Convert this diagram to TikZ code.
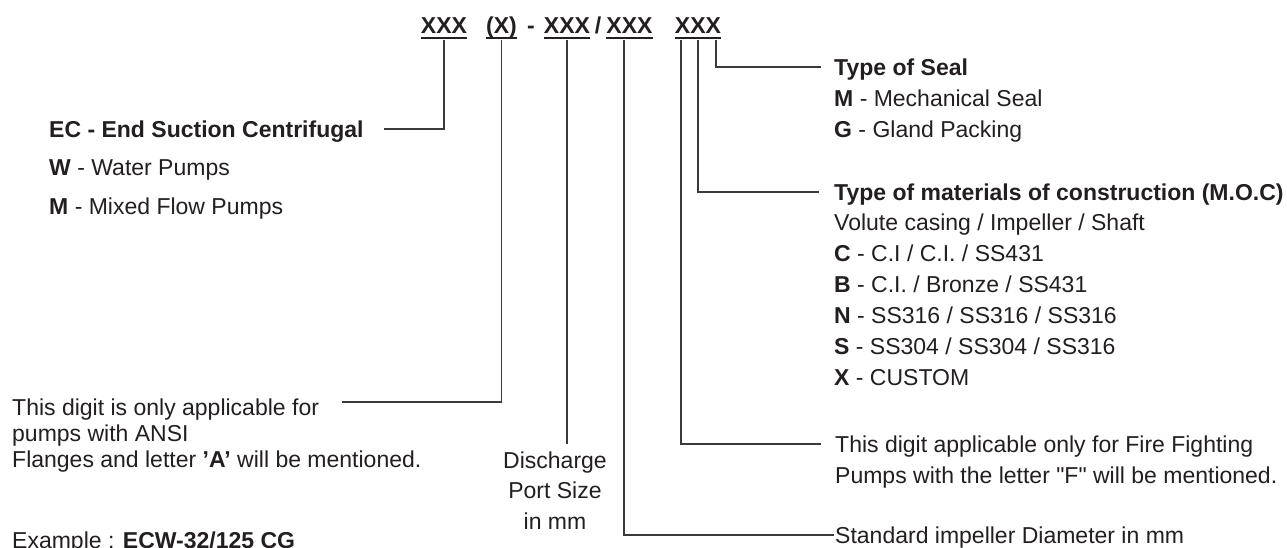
\documentclass[tikz,border=0pt]{standalone}
\usepackage{fontspec}
\setmainfont{Liberation Sans}
\usetikzlibrary{positioning}
\definecolor{ink}{HTML}{231F20}
\definecolor{wire}{HTML}{3A3A3A}
\newcommand{\dquote}{\XeTeXglyph\the\XeTeXcharglyph"22\relax}
\tikzset{
  code/.style={font=\fontsize{23}{28}\selectfont\bfseries, inner xsep=0pt, inner ysep=7pt, text depth=0pt, anchor=base, text=ink},
  head/.style={font=\fontsize{23}{31}\selectfont, inner sep=0pt, text height=16pt, text depth=0pt, anchor=base west, text=ink},
  body/.style={font=\fontsize{23}{31}\selectfont, inner sep=0pt, align=left, anchor=base west, text=ink},
  lead/.style={draw=wire, line width=1.2pt},
  uline/.style={draw=ink, line width=2pt}
}

\begin{document}
\begin{tikzpicture}[x=1pt, y=-1pt]
  \useasboundingbox (0,0) rectangle (1287,547);
  \fill[white] (0,0) rectangle (1287,547);

  % model code
  \node[code] (c1) at (444,33) {XXX};
  \node[code] (c2) at (501.5,33) {(X)};
  \node[code] (dash) at (531,33) {-};
  \node[code] (c3) at (567,33) {XXX};
  \node[code] (slash) at (598,33) {/};
  \node[code] (c4) at (629.5,33) {XXX};
  \node[code] (c5) at (698,33) {XXX};
  \foreach \n in {c1,c2,c3,c4,c5}
    \draw[uline] ([yshift=2pt]\n.south west) -- ([yshift=2pt]\n.south east);

  % left side (multi-line nodes sit on their last baseline)
  \node[head, font=\fontsize{23}{31}\selectfont\bfseries] (ec) at (49,137) {EC - End Suction Centrifugal};
  \node[body, font=\fontsize{23}{38.5}\selectfont] (ecl) at (49,214) {\textbf{W} - Water Pumps\\\textbf{M} - Mixed Flow Pumps};

  \node[head] (ansi) at (12,415) {This digit is only applicable for};
  \node[body, font=\fontsize{23}{25.5}\selectfont] (ansil) at (12,467) {pumps with ANSI\\Flanges and letter \textbf{’A’} will be mentioned.};

  \node[body, align=center, font=\fontsize{23}{30.5}\selectfont, anchor=base] (disch) at (555,529) {Discharge\\Port Size\\in mm};

  \node[head] (example) at (12,548) {Example : \textbf{ECW-32/125 CG}};

  % right side
  \node[head] (seal) at (834,75) {\textbf{Type of Seal}};
  \node[body] (seall) at (834,137) {\textbf{M} - Mechanical Seal\\\textbf{G} - Gland Packing};

  \node[head] (moc) at (834,200) {\textbf{Type of materials of construction (M.O.C)}};
  \node[body] (mocl) at (834,385) {Volute casing / Impeller / Shaft\\
    \textbf{C} - C.I / C.I. / SS431\\
    \textbf{B} - C.I. / Bronze / SS431\\
    \textbf{N} - SS316 / SS316 / SS316\\
    \textbf{S} - SS304 / SS304 / SS316\\
    \textbf{X} - CUSTOM};

  \node[head] (fire) at (835,452) {This digit applicable only for Fire Fighting};
  \node[head] (firel) at (835,483) {Pumps with the letter \dquote F\dquote\ will be mentioned.};

  \node[head] (std) at (835,543) {Standard impeller Diameter in mm};

  % leaders
  \draw[lead, shorten >=20pt] (c1.south) |- (ec);
  \draw[lead, shorten >=23pt] (c2.south) |- ([yshift=5pt]ansi.east);
  \draw[lead, shorten >=7pt] (c3.south) -- (c3.south |- disch.north);
  \draw[lead, shorten >=1pt] ([xshift=-5.5pt]c4.south) |- (std);
  \draw[lead, shorten >=14pt] ([xshift=-17pt]c5.south) |- (fire);
  \draw[lead, shorten >=15pt] (c5.south) |- (moc);
  \draw[lead, shorten >=13pt] ([xshift=18pt]c5.south) |- (seal);
\end{tikzpicture}
\end{document}
